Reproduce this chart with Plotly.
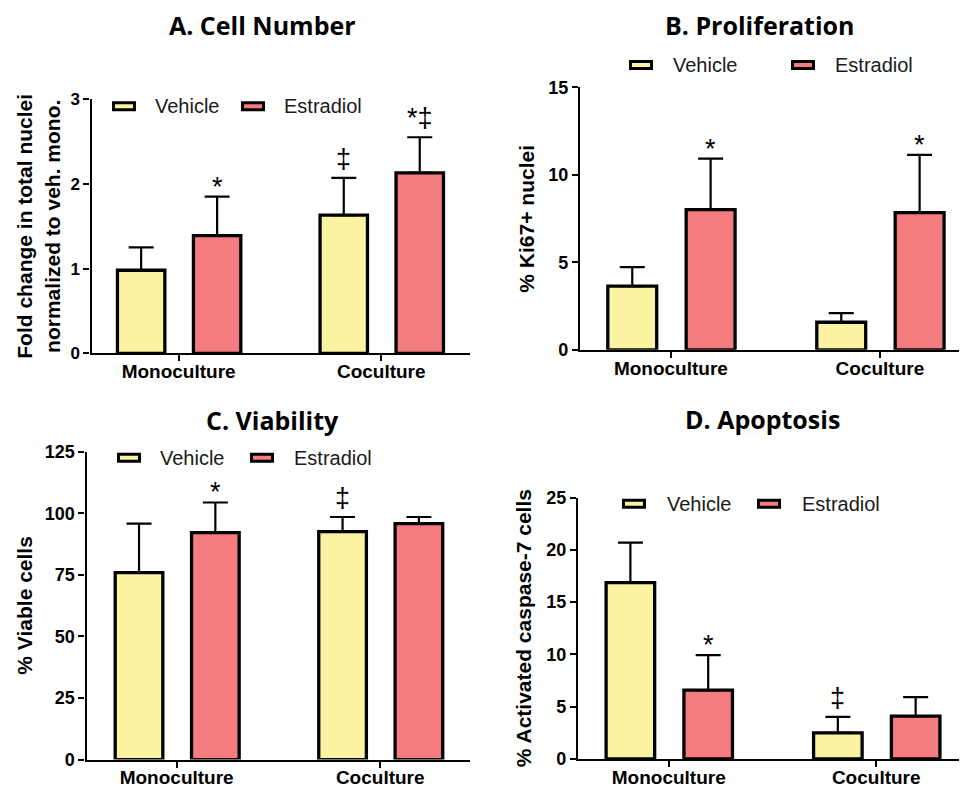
import plotly.graph_objects as go

# ---------------- data ----------------
categories = ["Monoculture", "Coculture"]
series_names = ["Vehicle", "Estradiol"]

# A. Cell Number
cell_vehicle = [0.98, 1.63]
cell_vehicle_err = [0.27, 0.44]
cell_estradiol = [1.39, 2.13]
cell_estradiol_err = [0.46, 0.42]
cell_sig_vehicle = ["", "‡"]
cell_sig_estradiol = ["*", "*‡"]
cell_ticks = [0, 1, 2, 3]

# B. Proliferation
prolif_vehicle = [3.64, 1.58]
prolif_vehicle_err = [1.09, 0.52]
prolif_estradiol = [8.01, 7.84]
prolif_estradiol_err = [2.92, 3.30]
prolif_sig_vehicle = ["", ""]
prolif_sig_estradiol = ["*", "*"]
prolif_ticks = [0, 5, 10, 15]

# C. Viability
viab_vehicle = [75.9, 92.6]
viab_vehicle_err = [19.9, 5.9]
viab_estradiol = [92.2, 95.8]
viab_estradiol_err = [12.2, 2.7]
viab_sig_vehicle = ["", "‡"]
viab_sig_estradiol = ["*", ""]
viab_ticks = [0, 25, 50, 75, 100, 125]

# D. Apoptosis
apop_vehicle = [16.86, 2.49]
apop_vehicle_err = [3.83, 1.53]
apop_estradiol = [6.58, 4.09]
apop_estradiol_err = [3.35, 1.82]
apop_sig_vehicle = ["", "‡"]
apop_sig_estradiol = ["*", ""]
apop_ticks = [0, 5, 10, 15, 20, 25]

titles = ["A. Cell Number", "B. Proliferation", "C. Viability", "D. Apoptosis"]
ytitles = ["Fold change in total nuclei<br>normalized to veh. mono.",
           "% Ki67+ nuclei", "% Viable cells", "% Activated caspase-7 cells"]

# ---------------- layout / style ----------------
W, H = 967, 790
OFFX = 8       # page margin, horizontal
OFFY = 18      # observed vertical offset of the rendered page
KY = 0.973     # observed vertical scale of the rendered page
def px_x(v):
    return (v - OFFX) / W
def px_y(v):
    return 1 - ((v - OFFY) / KY) / H

colors = ["#FAF4A2", "#F47B7E"]
bar_offsets = [-0.302, 0.073]
bar_width = 0.234
ARIAL = "Arial, Liberation Sans, sans-serif"

panels = [
    dict(veh=cell_vehicle, veh_err=cell_vehicle_err, est=cell_estradiol, est_err=cell_estradiol_err,
         sig_v=cell_sig_vehicle, sig_e=cell_sig_estradiol, ticks=cell_ticks,
         xdom=(91.5, 470), ydom=(352.7, 99), xr=(-0.43, 1.438), tickfs=17,
         title_xy=(262, 25), ytitle_x=38.5, leg_y=106, leg=(112, 153, 241, 282)),
    dict(veh=prolif_vehicle, veh_err=prolif_vehicle_err, est=prolif_estradiol, est_err=prolif_estradiol_err,
         sig_v=prolif_sig_vehicle, sig_e=prolif_sig_estradiol, ticks=prolif_ticks,
         xdom=(580, 975), ydom=(349.3, 87.3), xr=(-0.435, 1.455), tickfs=18,
         title_xy=(760, 25), ytitle_x=527, leg_y=65, leg=(629, 671, 791, 833)),
    dict(veh=viab_vehicle, veh_err=viab_vehicle_err, est=viab_estradiol, est_err=viab_estradiol_err,
         sig_v=viab_sig_vehicle, sig_e=viab_sig_estradiol, ticks=viab_ticks,
         xdom=(86.5, 470), ydom=(758.3, 451), xr=(-0.443, 1.441), tickfs=18,
         title_xy=(272, 419), ytitle_x=25, leg_y=457, leg=(117, 158, 250, 292)),
    dict(veh=apop_vehicle, veh_err=apop_vehicle_err, est=apop_estradiol, est_err=apop_estradiol_err,
         sig_v=apop_sig_vehicle, sig_e=apop_sig_estradiol, ticks=apop_ticks,
         xdom=(578, 975), ydom=(757.7, 496.7), xr=(-0.4375, 1.476), tickfs=18,
         title_xy=(762, 418), ytitle_x=523, leg_y=503, leg=(622, 665, 757, 800)),
]

fig = go.Figure()
annotations = []
shapes = []

for i, p in enumerate(panels):
    sfx = "" if i == 0 else str(i + 1)
    xa, ya = "x" + sfx, "y" + sfx
    series = [(p["veh"], p["veh_err"], p["sig_v"]), (p["est"], p["est_err"], p["sig_e"])]
    for k, (vals, errs, sigs) in enumerate(series):
        fig.add_trace(go.Bar(
            x=categories, y=vals, name=series_names[k], xaxis=xa, yaxis=ya,
            offset=bar_offsets[k], width=bar_width, showlegend=False,
            marker=dict(color=colors[k], line=dict(color="black", width=3.3)),
            error_y=dict(type="data", symmetric=False, array=errs, arrayminus=[0] * len(errs),
                         color="black", thickness=2.2, width=12.5),
        ))
        center = bar_offsets[k] + bar_width / 2
        for j, s in enumerate(sigs):
            if not s:
                continue
            annotations.append(dict(
                x=j + center, y=vals[j] + errs[j], xref=xa, yref=ya, text=s, showarrow=False,
                xanchor="center", yanchor="middle", yshift=10 if s == "*" else 19,
                font=dict(family=ARIAL, size=27, color="black")))
    x0, x1 = p["xdom"]
    yb, yt = p["ydom"]
    common = dict(showline=True, linecolor="black", linewidth=2.2, ticks="outside", ticklen=6,
                  tickwidth=2.2, tickcolor="black", showgrid=False, zeroline=False)
    fig.layout["xaxis" + sfx] = dict(
        domain=[px_x(x0), min(1.0, px_x(x1))], anchor=ya, type="category", range=list(p["xr"]),
        ticklabelstandoff=-6,
        tickfont=dict(family=ARIAL, size=19, color="black", weight="bold"), **common)
    fig.layout["yaxis" + sfx] = dict(
        domain=[px_y(yb), px_y(yt)], anchor=xa, range=[0, p["ticks"][-1]],
        tickvals=p["ticks"], tickfont=dict(family=ARIAL, size=p["tickfs"], color="black", weight="bold"),
        **common)
    # panel title
    tx, ty = p["title_xy"]
    annotations.append(dict(x=px_x(tx), y=px_y(ty), xref="paper", yref="paper", text="<b>" + titles[i] + "</b>",
                            showarrow=False, xanchor="center", yanchor="middle",
                            font=dict(family="Open Sans", size=25, color="black")))
    # y title
    annotations.append(dict(x=px_x(p["ytitle_x"]), y=px_y((yb + yt) / 2), xref="paper", yref="paper",
                            text="<b>" + ytitles[i] + "</b>", textangle=-90, showarrow=False,
                            xanchor="center", yanchor="middle",
                            font=dict(family=ARIAL, size=21, color="black")))
    # legend (manual)
    sw1, tx1, sw2, tx2 = p["leg"]
    ly = p["leg_y"]
    for k, (sw, tt) in enumerate([(sw1, tx1), (sw2, tx2)]):
        shapes.append(dict(type="rect", xref="paper", yref="paper",
                           x0=px_x(sw + 1.5), x1=px_x(sw + 24 - 1.5),
                           y0=px_y(ly + 3.5), y1=px_y(ly - 3.5),
                           fillcolor=colors[k], line=dict(color="black", width=3)))
        annotations.append(dict(x=px_x(tt), y=px_y(ly), xref="paper", yref="paper", text=series_names[k],
                                showarrow=False, xanchor="left", yanchor="middle",
                                font=dict(family=ARIAL, size=20, color="#1a1a1a")))

fig.update_layout(width=W, height=H, margin=dict(l=0, r=0, t=0, b=0),
                  paper_bgcolor="white", plot_bgcolor="white", barmode="overlay",
                  annotations=annotations, shapes=shapes, showlegend=False)

fig.write_html("out.html")
